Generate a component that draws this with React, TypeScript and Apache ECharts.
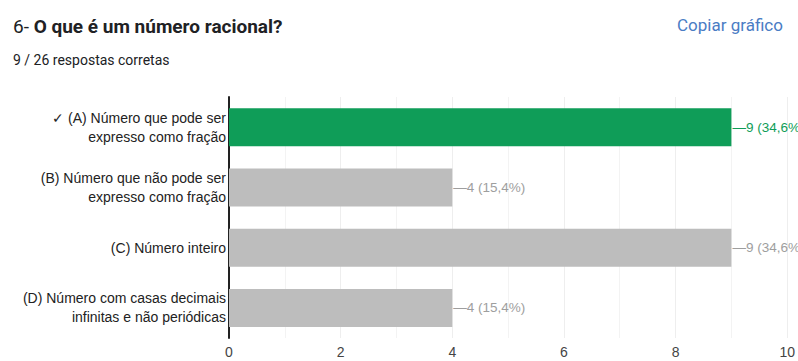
import React, { useEffect, useRef } from "react";
import * as echarts from "echarts";

const categories = [
  "✓ (A) Número que pode ser\nexpresso como fração",
  "(B) Número que não pode ser\nexpresso como fração",
  "(C) Número inteiro",
  "(D) Número com casas decimais\ninfinitas e não periódicas",
];
const counts = [9, 4, 9, 4];
const percents = ["34,6%", "15,4%", "34,6%", "15,4%"];
const correct = [true, false, false, false];
const xTicks = { min: 0, max: 10, interval: 2 };

const GREEN = "#0f9d58";
const GRAY = "#bdbdbd";

export default function App() {
  const ref = useRef<HTMLDivElement>(null);
  useEffect(() => {
    document.body.style.margin = "0";
    const chart = echarts.init(ref.current!, undefined, { renderer: "svg" });
    chart.setOption({
      animation: false,
      textStyle: { fontFamily: "Arial, 'Liberation Sans', sans-serif" },
      title: [
        {
          text: "{n|6- }{b|O que é um número racional?}",
          left: 8,
          top: 12,
          textStyle: {
            rich: {
              n: { fontFamily: "Roboto", fontSize: 19, fontWeight: "normal", color: "#202124" },
              b: { fontFamily: "Roboto", fontSize: 19, fontWeight: "bold", color: "#202124" },
            },
          },
        },
        {
          text: "9 / 26 respostas corretas",
          left: 8,
          top: 48,
          textStyle: { fontFamily: "Roboto", fontSize: 14, fontWeight: "normal", color: "#202124" },
        },
        {
          text: "Copiar gráfico",
          left: 672,
          top: 11,
          textStyle: { fontFamily: "Roboto", fontSize: 17, fontWeight: "normal", color: "#4a7cc4" },
        },
      ],
      grid: { left: 229, right: 10, top: 97, bottom: 23, containLabel: false },
      xAxis: {
        type: "value",
        min: xTicks.min,
        max: xTicks.max,
        interval: xTicks.interval,
        axisLine: { show: false },
        axisTick: { show: false },
        axisLabel: { color: "#444", fontSize: 14, margin: 7 },
        splitLine: { show: true, lineStyle: { color: "#eeeeee", width: 1 } },
        minorTick: { show: false, splitNumber: 2 },
        minorSplitLine: { show: true, lineStyle: { color: "#f3f3f3", width: 1 } },
      },
      yAxis: {
        type: "category",
        data: categories,
        inverse: true,
        axisLine: { show: true, lineStyle: { color: "#222", width: 2 } },
        axisTick: { show: false },
        axisLabel: { color: "#222", fontSize: 14, lineHeight: 19, align: "right", margin: 3 },
        splitLine: { show: false },
      },
      series: [
        {
          type: "bar",
          data: counts.map((v, i) => ({
            value: v,
            itemStyle: { color: correct[i] ? GREEN : GRAY },
            label: { color: correct[i] ? GREEN : "#9e9e9e" },
          })),
          barWidth: 38,
          label: {
            show: true,
            position: "right",
            distance: 1,
            fontSize: 13.5,
            formatter: (p: any) => `—${p.value} (${percents[p.dataIndex]})`,
          },
        },
      ],
    });
    return () => chart.dispose();
  }, []);
  return <div ref={ref} style={{ width: 798, height: 361 }} />;
}
